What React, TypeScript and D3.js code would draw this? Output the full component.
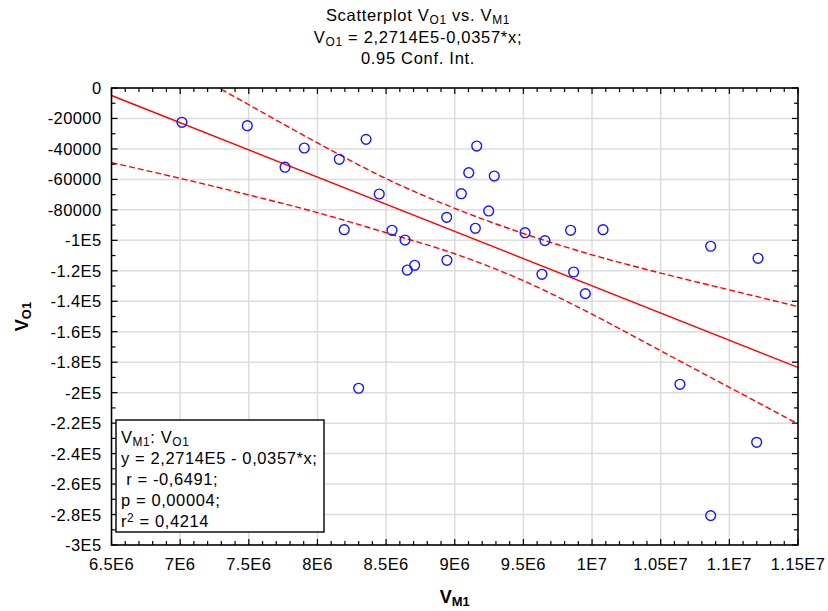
import React, { useRef, useEffect } from "react";
import * as d3 from "d3";

// V_M1 (x) and V_O1 (y) observations
const vm1 = [
  7.013e6, 7.489e6, 7.904e6, 7.764e6, 8.354e6, 8.159e6, 8.45e6, 8.195e6,
  8.543e6, 8.638e6, 8.654e6, 8.708e6, 8.3e6, 8.941e6, 8.943e6, 9.048e6,
  9.102e6, 9.16e6, 9.15e6, 9.247e6, 9.288e6, 9.512e6, 9.657e6, 9.635e6,
  9.844e6, 9.866e6, 9.951e6, 10.08e6, 10.864e6, 11.209e6, 10.64e6, 11.199e6,
  10.864e6,
];
const vo1 = [
  -22500, -24750, -39400, -52000, -33700, -46800, -69600, -93000, -93400,
  -99800, -119500, -116400, -197100, -84900, -113100, -69400, -55600, -38100,
  -92100, -80700, -57800, -95000, -100200, -122300, -93400, -120800, -135000,
  -93000, -103900, -111800, -194500, -232600, -280700,
];

// regression V_O1 = 2,2714E5 - 0,0357*x
const fitIntercept = 227140;
const fitSlope = -0.0357;

// 0.95 confidence band read at major x ticks
const bandX = [6.5e6, 7e6, 7.5e6, 8e6, 8.5e6, 9e6, 9.5e6, 1e7, 1.05e7, 1.1e7, 1.15e7];
const bandUpper = [40000, 14500, -11000, -36000, -59500, -79000, -95500, -109500, -121500, -132500, -143500];
const bandLower = [-49000, -59300, -70200, -81800, -95000, -108800, -126500, -148500, -172500, -196500, -220500];

const xTicks = [6.5e6, 7e6, 7.5e6, 8e6, 8.5e6, 9e6, 9.5e6, 1e7, 1.05e7, 1.1e7, 1.15e7];
const xTickLabels = ["6.5E6", "7E6", "7.5E6", "8E6", "8.5E6", "9E6", "9.5E6", "1E7", "1.05E7", "1.1E7", "1.15E7"];
const yTicks = [0, -20000, -40000, -60000, -80000, -100000, -120000, -140000, -160000, -180000, -200000, -220000, -240000, -260000, -280000, -300000];
const yTickLabels = ["0", "-20000", "-40000", "-60000", "-80000", "-1E5", "-1.2E5", "-1.4E5", "-1.6E5", "-1.8E5", "-2E5", "-2.2E5", "-2.4E5", "-2.6E5", "-2.8E5", "-3E5"];

const legendLines = [
  [["V", ""], ["M1", "sub"], [": V", ""], ["O1", "sub"]],
  [["y = 2,2714E5 - 0,0357*x;", ""]],
  [["\u00a0r = -0,6491;", ""]],
  [["p = 0,00004;", ""]],
  [["r", ""], ["2", "sup"], [" = 0,4214", ""]],
];

const FONT = "'Liberation Sans', Arial, sans-serif";

function richText(sel, parts, size) {
  parts.forEach(([t, kind]) => {
    const ts = sel.append("tspan").text(t);
    if (kind === "sub") ts.attr("font-size", size * 0.72).attr("baseline-shift", "-25%");
    if (kind === "sup") ts.attr("font-size", size * 0.72).attr("baseline-shift", "45%");
  });
}

const App = () => {
  const ref = useRef(null);
  const width = 828;
  const height = 611;
  const margin = { top: 88, right: 30, bottom: 66, left: 111.5 };

  useEffect(() => {
    document.body.style.margin = "0";
    const svg = d3.select(ref.current);
    svg.selectAll("*").remove();

    const x = d3.scaleLinear().domain([6.5e6, 1.15e7]).range([margin.left, width - margin.right]);
    const y = d3.scaleLinear().domain([-3e5, 0]).range([height - margin.bottom, margin.top]);
    const [x0, x1] = x.range();
    const [y1, y0] = y.range();

    svg.append("defs").append("clipPath").attr("id", "plot")
      .append("rect").attr("x", x0).attr("y", y0).attr("width", x1 - x0).attr("height", y1 - y0);

    // grid
    const grid = svg.append("g").attr("stroke", "#dcdcdc").attr("stroke-width", 1.5);
    xTicks.slice(1, -1).forEach((t) => {
      grid.append("line").attr("x1", x(t)).attr("x2", x(t)).attr("y1", y0).attr("y2", y1);
    });
    yTicks.slice(1, -1).forEach((t) => {
      grid.append("line").attr("x1", x0).attr("x2", x1).attr("y1", y(t)).attr("y2", y(t));
    });

    // regression and confidence band
    const plot = svg.append("g").attr("clip-path", "url(#plot)");
    plot.append("line")
      .attr("x1", x(6.5e6)).attr("y1", y(fitIntercept + fitSlope * 6.5e6))
      .attr("x2", x(1.15e7)).attr("y2", y(fitIntercept + fitSlope * 1.15e7))
      .attr("stroke", "#ff0000").attr("stroke-width", 1.4);
    const band = (vals) => d3.line().x((d, i) => x(bandX[i])).y((d) => y(d)).curve(d3.curveMonotoneX)(vals);
    [bandUpper, bandLower].forEach((vals) => {
      plot.append("path").attr("d", band(vals)).attr("fill", "none")
        .attr("stroke", "#ff0000").attr("stroke-width", 1.4).attr("stroke-dasharray", "6,3");
    });

    // points
    plot.selectAll(".dot").data(vm1).enter().append("circle")
      .attr("cx", (d) => x(d))
      .attr("cy", (d, i) => y(vo1[i]))
      .attr("r", 4.9)
      .attr("fill", "none")
      .attr("stroke", "#1515ff")
      .attr("stroke-width", 1.4);

    // frame and inward ticks
    const axis = svg.append("g").attr("stroke", "#000");
    axis.append("rect").attr("x", x0).attr("y", y0).attr("width", x1 - x0).attr("height", y1 - y0)
      .attr("fill", "none").attr("stroke-width", 1.6);
    d3.range(65, 116).forEach((k) => {
      const v = k * 1e5;
      const len = k % 5 === 0 ? 6 : 4;
      axis.append("line").attr("x1", x(v)).attr("x2", x(v)).attr("y1", y1).attr("y2", y1 - len).attr("stroke-width", 1.2);
      axis.append("line").attr("x1", x(v)).attr("x2", x(v)).attr("y1", y0).attr("y2", y0 + len).attr("stroke-width", 1.2);
    });
    d3.range(0, 31).forEach((k) => {
      const v = -k * 1e4;
      const len = k % 2 === 0 ? 6 : 4;
      axis.append("line").attr("x1", x0).attr("x2", x0 + len).attr("y1", y(v)).attr("y2", y(v)).attr("stroke-width", 1.2);
      axis.append("line").attr("x1", x1).attr("x2", x1 - len).attr("y1", y(v)).attr("y2", y(v)).attr("stroke-width", 1.2);
    });

    // tick labels
    const labels = svg.append("g").attr("font-family", FONT).attr("font-size", 16.5)
      .attr("letter-spacing", 0.4).attr("fill", "#000");
    xTicks.forEach((t, i) => {
      labels.append("text").attr("x", x(t)).attr("y", y1 + 25).attr("text-anchor", "middle").text(xTickLabels[i]);
    });
    yTicks.forEach((t, i) => {
      labels.append("text").attr("x", x0 - 10).attr("y", y(t) + 6).attr("text-anchor", "end").text(yTickLabels[i]);
    });

    // axis titles
    const xt = svg.append("text").attr("font-family", FONT).attr("font-weight", "bold").attr("font-size", 18)
      .attr("x", (x0 + x1) / 2).attr("y", 603).attr("text-anchor", "middle");
    richText(xt, [["V", ""], ["M1", "sub"]], 18);
    const yt = svg.append("text").attr("font-family", FONT).attr("font-weight", "bold").attr("font-size", 18)
      .attr("text-anchor", "middle").attr("transform", `translate(28,${(y0 + y1) / 2}) rotate(-90)`);
    richText(yt, [["V", ""], ["O1", "sub"]], 18);

    // title
    const title = svg.append("g").attr("font-family", FONT).attr("font-size", 16.5)
      .attr("letter-spacing", 0.7).attr("text-anchor", "middle");
    const tl = [
      [["Scatterplot V", ""], ["O1", "sub"], [" vs. V", ""], ["M1", "sub"]],
      [["V", ""], ["O1", "sub"], [" = 2,2714E5-0,0357*x;", ""]],
      [["0.95 Conf. Int.", ""]],
    ];
    tl.forEach((parts, i) => {
      richText(title.append("text").attr("x", 418).attr("y", 21 + i * 21.5), parts, 16.5);
    });

    // legend box
    const lg = svg.append("g");
    lg.append("rect").attr("x", 116).attr("y", 420).attr("width", 208).attr("height", 112)
      .attr("fill", "#fff").attr("stroke", "#111").attr("stroke-width", 1.5);
    legendLines.forEach((parts, i) => {
      richText(lg.append("text").attr("font-family", FONT).attr("font-size", 16.5)
        .attr("letter-spacing", 0.6).attr("x", 121).attr("y", 443 + i * 20.9), parts, 16.5);
    });
  });

  return <svg ref={ref} width={width} height={height} style={{ display: "block", background: "#fff" }}></svg>;
};

export default App;
